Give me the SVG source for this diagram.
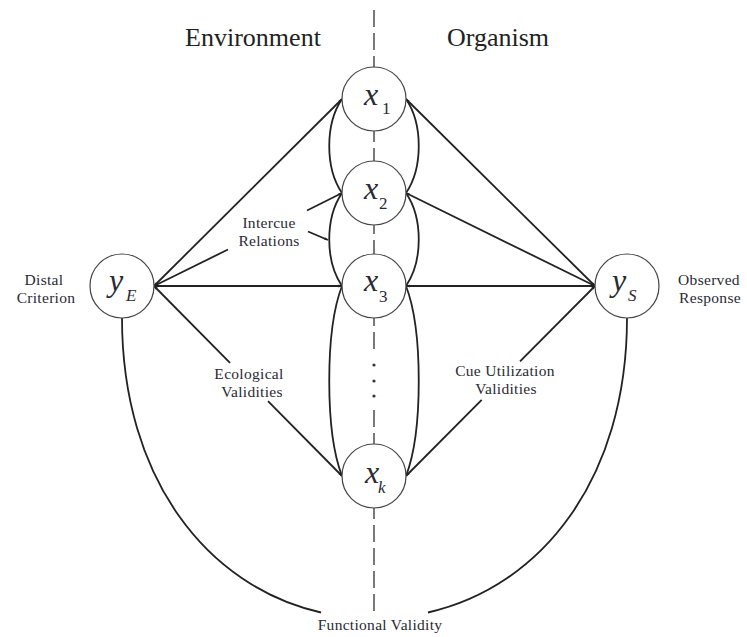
<svg xmlns="http://www.w3.org/2000/svg" width="747" height="637" viewBox="0 0 747 637">
  <style>
    .ln { fill: none; stroke: #222; stroke-width: 1.8; }
    .arc { fill: none; stroke: #222; stroke-width: 1.8; }
    .dash { fill: none; stroke: #333; stroke-width: 1.3; stroke-dasharray: 17 6; }
    .node { fill: #fff; stroke: #444; stroke-width: 1.2; }
    .lbl { font-family: "Liberation Serif", "Times New Roman", serif; font-size: 15.5px; letter-spacing: 0.3px; fill: #2a2a33; text-anchor: middle; }
    .hdr { font-family: "Liberation Serif", "Times New Roman", serif; font-size: 26px; fill: #222; text-anchor: middle; }
    .var { font-family: "Liberation Serif", "Times New Roman", serif; font-size: 32px; font-style: italic; fill: #2a2a33; }
    .sub { font-family: "Liberation Serif", "Times New Roman", serif; font-size: 17px; fill: #2a2a33; }
    .subi { font-family: "Liberation Serif", "Times New Roman", serif; font-size: 17px; font-style: italic; fill: #2a2a33; }
  </style>
  <defs>
    <marker id="ah" viewBox="0 0 10 10" refX="10" refY="5" markerWidth="4.5" markerHeight="3.5" markerUnits="userSpaceOnUse" orient="auto-start-reverse">
      <path d="M0,1 L10,5 L0,9 z" fill="#222"/>
    </marker>
  </defs>

  <rect width="747" height="637" fill="#fff"/>

  <!-- headers -->
  <text class="hdr" x="253" y="46">Environment</text>
  <text class="hdr" x="498" y="46">Organism</text>

  <!-- dashed divider -->
  <g id="divider">
    <path class="dash" d="M374,10 V352"/>
    <path class="dash" d="M374,410 V612"/>
    <circle cx="374" cy="365" r="1.6" fill="#334"/>
    <circle cx="374" cy="381" r="1.6" fill="#334"/>
    <circle cx="374" cy="396" r="1.6" fill="#334"/>
  </g>

  <!-- connectors -->
  <g id="connectors">
    <!-- environment side -->
    <path class="ln" d="M154,286 L342,99" marker-start="url(#ah)" marker-end="url(#ah)"/>
    <path class="ln" d="M154,286 L228,249.5" marker-start="url(#ah)"/>
    <path class="ln" d="M307,210.5 L342,193" marker-end="url(#ah)"/>
    <path class="ln" d="M154,286 L342,286" marker-start="url(#ah)" marker-end="url(#ah)"/>
    <path class="ln" d="M154,286 L230,362.8" marker-start="url(#ah)"/>
    <path class="ln" d="M268,401.2 L342,476" marker-end="url(#ah)"/>
    <!-- organism side -->
    <path class="ln" d="M406,99 L595,286" marker-start="url(#ah)" marker-end="url(#ah)"/>
    <path class="ln" d="M406,193 L595,286" marker-start="url(#ah)" marker-end="url(#ah)"/>
    <path class="ln" d="M406,286 L595,286" marker-start="url(#ah)" marker-end="url(#ah)"/>
    <path class="ln" d="M406,476 L481.7,399.9" marker-start="url(#ah)"/>
    <path class="ln" d="M520,361.4 L595,286" marker-end="url(#ah)"/>
    <!-- intercue arcs -->
    <path class="arc" d="M342,99 C325,124 325,168 342,193"/>
    <path class="arc" d="M342,193 C325,218 325,261 342,286"/>
    <path class="arc" d="M342,286 C325,330 325,432 342,476"/>
    <path class="arc" d="M406,99 C423,124 423,168 406,193"/>
    <path class="arc" d="M406,193 C423,218 423,261 406,286"/>
    <path class="arc" d="M406,286 C423,330 423,432 406,476"/>
    <!-- intercue pointer -->
    <path class="ln" d="M308,231.5 L328,240" stroke-width="1.3" marker-end="url(#ah)"/>
    <!-- functional validity -->
    <path class="arc" d="M122,318 C122,478 206.8,586.7 321,612.5"/>
    <path class="arc" d="M627,318 C627,478 542.2,586.7 428,612.5"/>
  </g>

  <!-- nodes -->
  <g id="yE">
    <circle class="node" cx="122" cy="286" r="32"/>
    <text class="var" x="109" y="291">y</text>
    <text class="subi" x="126" y="301">E</text>
  </g>
  <g id="yS">
    <circle class="node" cx="627" cy="286" r="32"/>
    <text class="var" x="612" y="291">y</text>
    <text class="subi" x="628" y="301">S</text>
  </g>
  <g id="x1">
    <circle class="node" cx="374" cy="99" r="32"/>
    <text class="var" x="364" y="105">x</text>
    <text class="sub" x="382" y="114">1</text>
  </g>
  <g id="x2">
    <circle class="node" cx="374" cy="193" r="32"/>
    <text class="var" x="364" y="199">x</text>
    <text class="sub" x="379" y="209">2</text>
  </g>
  <g id="x3">
    <circle class="node" cx="374" cy="286" r="32"/>
    <text class="var" x="364" y="291">x</text>
    <text class="sub" x="379" y="302">3</text>
  </g>
  <g id="xk">
    <circle class="node" cx="374" cy="476" r="32"/>
    <text class="var" x="365" y="483">x</text>
    <text class="subi" x="378" y="493">k</text>
  </g>

  <!-- labels -->
  <g id="labels">
    <text class="lbl" x="44" y="284.5">Distal</text>
    <text class="lbl" x="46" y="302.5">Criterion</text>
    <text class="lbl" x="709" y="284.5">Observed</text>
    <text class="lbl" x="710" y="302.5">Response</text>
    <text class="lbl" x="269" y="227.5">Intercue</text>
    <text class="lbl" x="269" y="245.5">Relations</text>
    <text class="lbl" x="249" y="378.5">Ecological</text>
    <text class="lbl" x="252" y="396.5">Validities</text>
    <text class="lbl" x="505" y="376">Cue Utilization</text>
    <text class="lbl" x="506" y="394">Validities</text>
    <text class="lbl" x="380" y="630">Functional Validity</text>
  </g>
</svg>
